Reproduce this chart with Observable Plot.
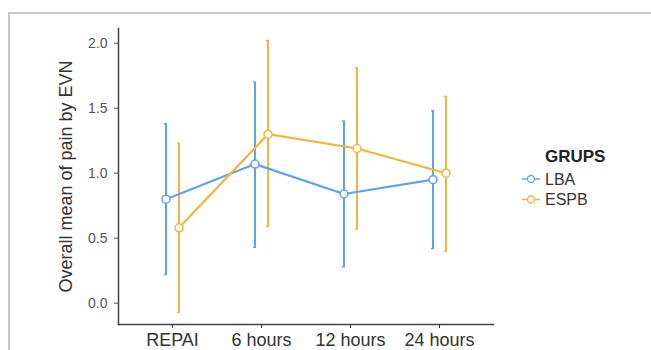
<!DOCTYPE html>
<html>
<head>
<meta charset="utf-8">
<script src="https://cdn.jsdelivr.net/npm/d3@7"></script>
<script src="https://cdn.jsdelivr.net/npm/@observablehq/plot@0.6"></script>
<style>
  html, body { margin: 0; padding: 0; background: #fff; }
  #wrap { position: relative; width: 651px; height: 350px; overflow: hidden; font-family: "Liberation Sans", Arial, sans-serif; }
  #border { position: absolute; left: 8px; top: 12px; width: 700px; height: 400px; border-top: 2px solid #c8c8c8; border-left: 2px solid #c8c8c8; }
  #chart { position: absolute; left: 0; top: 0; }
  #legend { position: absolute; left: 515px; top: 140px; }
</style>
</head>
<body>
<div id="wrap">
  <div id="border"></div>
  <div id="chart"></div>
  <svg id="legend" width="130" height="80"></svg>
</div>
<script>
const times = ["REPAI", "6 hours", "12 hours", "24 hours"];
const groups = ["LBA", "ESPB"];
const colors = ["#5DA5E8", "#F4B43F"];
const lbaMean = [0.80, 1.07, 0.84, 0.95];
const lbaLow  = [0.22, 0.43, 0.28, 0.42];
const lbaHigh = [1.38, 1.70, 1.40, 1.48];
const espbMean = [0.58, 1.30, 1.19, 1.00];
const espbLow  = [-0.07, 0.59, 0.57, 0.40];
const espbHigh = [1.23, 2.02, 1.81, 1.59];
const yTicks = [0, 0.5, 1.0, 1.5, 2.0];

const series = {
  LBA: times.map((t, i) => ({time: t, group: "LBA", mean: lbaMean[i], low: lbaLow[i], high: lbaHigh[i]})),
  ESPB: times.map((t, i) => ({time: t, group: "ESPB", mean: espbMean[i], low: espbLow[i], high: espbHigh[i]}))
};
const dodge = {LBA: -6.5, ESPB: 6.5};
const col = {LBA: colors[0], ESPB: colors[1]};

const bars = groups.flatMap(g => [
  Plot.ruleX(series[g], {x: "time", y1: "low", y2: "high", stroke: col[g], strokeWidth: 2, dx: dodge[g]}),
  Plot.ruleY(series[g], {x1: "time", x2: "time", y: "low", stroke: col[g], strokeWidth: 1.5, dx: dodge[g], insetLeft: -1.5, insetRight: -1.5}),
  Plot.ruleY(series[g], {x1: "time", x2: "time", y: "high", stroke: col[g], strokeWidth: 1.5, dx: dodge[g], insetLeft: -1.5, insetRight: -1.5})
]);
const lines = groups.map(g =>
  Plot.line(series[g], {x: "time", y: "mean", stroke: col[g], strokeWidth: 2.2, dx: dodge[g]})
);
const dots = groups.map(g =>
  Plot.dot(series[g], {x: "time", y: "mean", r: 4, fill: "white", stroke: col[g], strokeWidth: 1.5, dx: dodge[g]})
);

const plot = Plot.plot({
  width: 651,
  height: 350,
  marginLeft: 118,
  marginRight: 158,
  marginTop: 28,
  marginBottom: 26,
  style: {fontFamily: "Liberation Sans, Arial, sans-serif", background: "transparent"},
  x: {type: "point", domain: times, padding: 0.6},
  y: {domain: [-0.164, 2.113]},
  marks: [
    ...bars,
    ...lines,
    ...dots,
    Plot.frame({anchor: "left", stroke: "#444", strokeWidth: 1.5}),
    Plot.frame({anchor: "bottom", stroke: "#444", strokeWidth: 1.5}),
    Plot.axisY({ticks: yTicks, tickFormat: d3.format(".1f"), tickSize: 4, tickPadding: 7, fontSize: 14, color: "#555",
      label: "Overall mean of pain by EVN", labelAnchor: "center", labelArrow: "none", labelOffset: 59}),
    Plot.axisX({tickSize: 4, tickPadding: 5, fontSize: 18, color: "#333", label: null})
  ]
});
plot.querySelectorAll("[aria-label='y-axis label'] text, [aria-label='y-axis label']").forEach(e => {
  e.setAttribute("font-size", 18); e.setAttribute("fill", "#333");
});
document.getElementById("chart").appendChild(plot);

// legend
const lg = d3.select("#legend");
lg.append("text").attr("x", 30).attr("y", 22).attr("font-size", 17).attr("font-weight", "bold")
  .attr("fill", "#222").attr("font-family", "Liberation Sans, Arial, sans-serif").text("GRUPS");
groups.forEach((g, i) => {
  const cy = 39 + i * 20.5;
  lg.append("line").attr("x1", 7).attr("x2", 25).attr("y1", cy).attr("y2", cy).attr("stroke", colors[i]).attr("stroke-width", 1.5);
  lg.append("circle").attr("cx", 16).attr("cy", cy).attr("r", 3.5).attr("fill", "white").attr("stroke", colors[i]).attr("stroke-width", 1.3);
  lg.append("text").attr("x", 30).attr("y", cy + 5.5).attr("font-size", 16).attr("fill", "#333")
    .attr("font-family", "Liberation Sans, Arial, sans-serif").text(g);
});
</script>
</body>
</html>
